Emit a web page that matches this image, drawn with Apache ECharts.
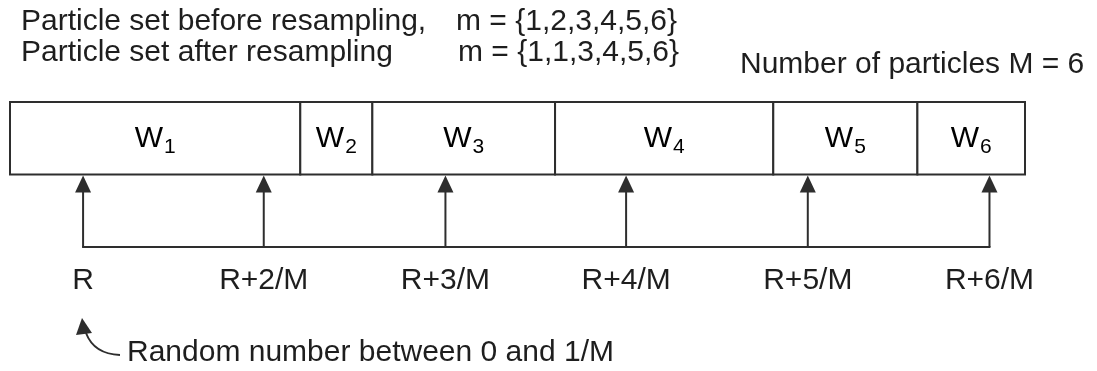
<!DOCTYPE html>
<html>
<head>
<meta charset="utf-8">
<script src="https://cdn.jsdelivr.net/npm/echarts@6/dist/echarts.min.js"></script>
<style>
  html, body { margin: 0; padding: 0; background: #fff; }
  #chart { width: 1097px; height: 371px; }
</style>
</head>
<body>
<div id="chart"></div>
<script>
const cellLabels = ['1', '2', '3', '4', '5', '6'];
const weights = [0.286, 0.071, 0.180, 0.215, 0.142, 0.106];
const pointerPos = [0.072, 0.250, 0.429, 0.607, 0.786, 0.965];
const pointerLabels = ['R', 'R+2/M', 'R+3/M', 'R+4/M', 'R+5/M', 'R+6/M'];

const FONT = '"Liberation Sans", Arial, sans-serif';
const INK = '#2e2e2e';
const TEXT = '#1e1e1e';

// cumulative start / end of every weight cell
let acc = 0;
const cells = weights.map((w, i) => {
  const row = [acc, acc + w, i];
  acc += w;
  return row;
});
const pointers = pointerPos.map((p, i) => [p, i]);

const chart = echarts.init(document.getElementById('chart'));

chart.setOption({
  animation: false,
  grid: { left: 10, right: 72, top: 102, bottom: 124 },
  xAxis: { type: 'value', min: 0, max: 1, show: false },
  yAxis: { type: 'value', min: 0, max: 2, show: false },
  graphic: [
    { type: 'text', left: 21, top: 7, style: { text: 'Particle set before resampling,', font: '30px ' + FONT, fill: TEXT } },
    { type: 'text', left: 456, top: 7, style: { text: 'm = {1,2,3,4,5,6}', font: '30px ' + FONT, fill: TEXT } },
    { type: 'text', left: 21, top: 38, style: { text: 'Particle set after resampling', font: '30px ' + FONT, fill: TEXT } },
    { type: 'text', left: 458, top: 38, style: { text: 'm = {1,1,3,4,5,6}', font: '30px ' + FONT, fill: TEXT } },
    { type: 'text', left: 740, top: 50, style: { text: 'Number of particles M = 6', font: '30px ' + FONT, fill: TEXT } },
    { type: 'text', left: 127, top: 338, style: { text: 'Random number between 0 and 1/M', font: '30px ' + FONT, fill: TEXT } },
    {
      type: 'bezierCurve',
      shape: { x1: 120, y1: 355, x2: 86, y2: 333, cpx1: 94, cpy1: 354 },
      style: { stroke: INK, lineWidth: 2, fill: null }
    },
    {
      type: 'polygon',
      shape: { points: [[82, 318], [76, 335], [92, 333]] },
      style: { fill: INK }
    }
  ],
  series: [
    {
      type: 'custom',
      data: cells,
      renderItem: (params, api) => {
        const p0 = api.coord([api.value(0), 2]);
        const p1 = api.coord([api.value(1), 1]);
        const idx = api.value(2);
        return {
          type: 'group',
          children: [
            {
              type: 'rect',
              shape: { x: p0[0], y: p0[1], width: p1[0] - p0[0], height: p1[1] - p0[1] },
              style: { fill: '#fff', stroke: INK, lineWidth: 2 }
            },
            {
              type: 'text',
              x: (p0[0] + p1[0]) / 2,
              y: (p0[1] + p1[1]) / 2 + 2,
              style: {
                text: '{w|W}{s|' + cellLabels[idx] + '}',
                align: 'center',
                verticalAlign: 'middle',
                rich: {
                  w: { fontSize: 30, fontFamily: FONT, color: TEXT, verticalAlign: 'bottom', padding: [0, 1, 4, 0] },
                  s: { fontSize: 21, fontFamily: FONT, color: TEXT, verticalAlign: 'bottom' }
                }
              }
            }
          ]
        };
      }
    },
    {
      type: 'custom',
      data: pointers,
      renderItem: (params, api) => {
        const base = api.coord([api.value(0), 0]);
        const tip = api.coord([api.value(0), 1]);
        const idx = api.value(1);
        const children = [
          {
            type: 'line',
            shape: { x1: base[0], y1: base[1], x2: tip[0], y2: tip[1] + 12 },
            style: { stroke: INK, lineWidth: 2 }
          },
          {
            type: 'polygon',
            shape: { points: [[tip[0], tip[1] + 1], [tip[0] - 8, tip[1] + 18], [tip[0] + 8, tip[1] + 18]] },
            style: { fill: INK }
          },
          {
            type: 'text',
            x: base[0],
            y: base[1] + 34,
            style: {
              text: pointerLabels[idx],
              font: '30px ' + FONT,
              fill: TEXT,
              align: 'center',
              verticalAlign: 'middle'
            }
          }
        ];
        if (params.dataIndex === 0) {
          const last = api.coord([pointerPos[pointerPos.length - 1], 0]);
          children.push({
            type: 'line',
            shape: { x1: base[0] - 1, y1: base[1], x2: last[0] + 1, y2: base[1] },
            style: { stroke: INK, lineWidth: 2 }
          });
        }
        return { type: 'group', children };
      }
    }
  ]
});
</script>
</body>
</html>
